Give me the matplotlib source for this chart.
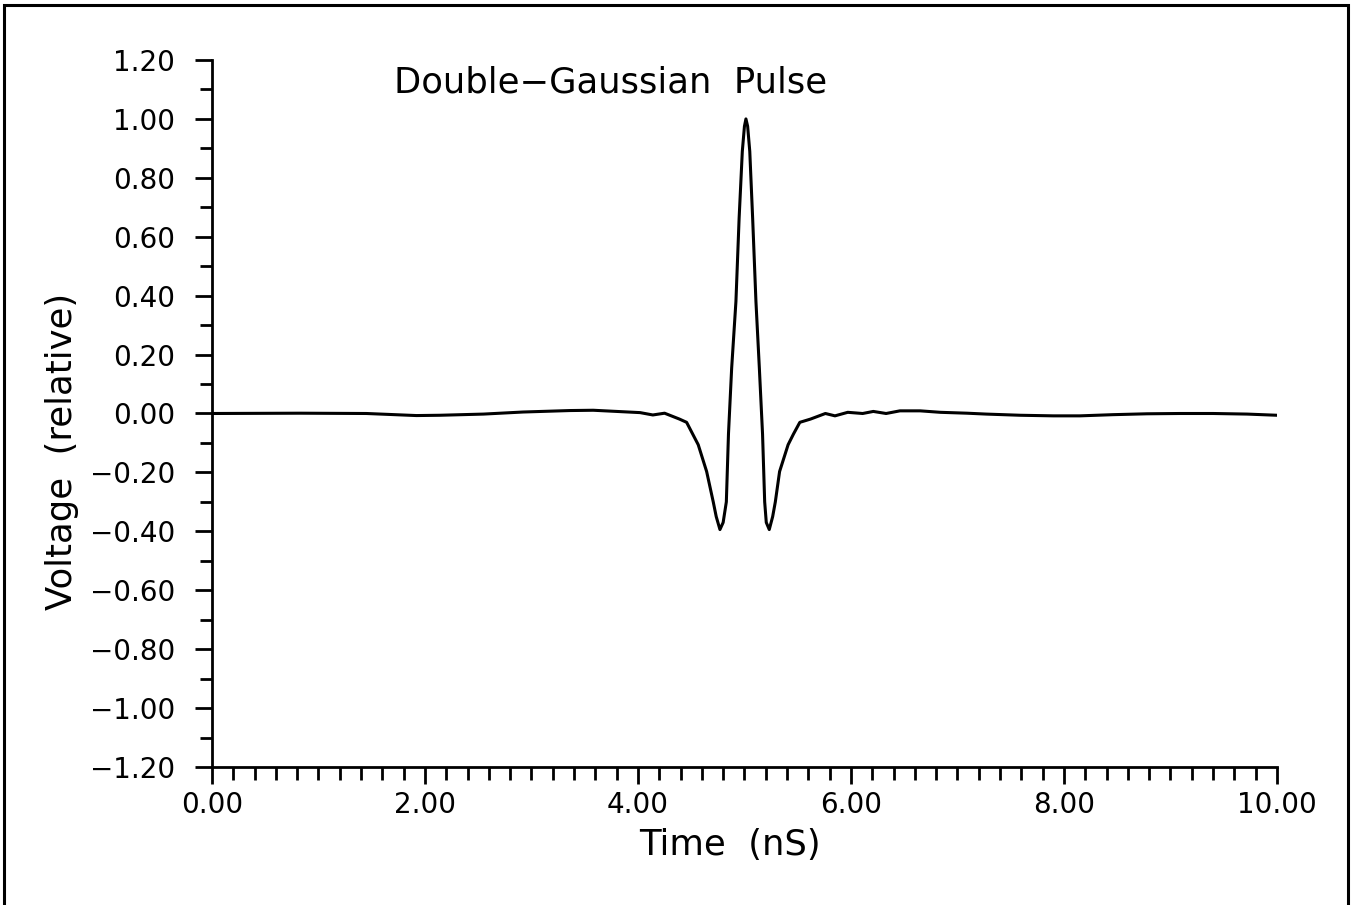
import matplotlib
matplotlib.use("Agg")
import matplotlib.pyplot as plt
from matplotlib.patches import Rectangle
from matplotlib.ticker import MultipleLocator, FuncFormatter

# values (time in nS, relative voltage)
time_ns = [0.00, 0.83, 1.45, 1.92, 2.14, 2.55, 2.92, 3.36, 3.58, 3.80,
           4.02, 4.14, 4.25, 4.39, 4.457, 4.566, 4.645, 4.707, 4.735, 4.77,
           4.80, 4.83, 4.85, 4.88, 4.92, 4.95, 4.98, 5.00, 5.014, 5.03,
           5.05, 5.077, 5.108, 5.14, 5.17, 5.19, 5.205, 5.233, 5.265, 5.29,
           5.33, 5.41, 5.46, 5.52, 5.62, 5.76, 5.85, 5.97, 6.11, 6.21,
           6.33, 6.46, 6.65, 6.84, 7.09, 7.27, 7.59, 7.90, 8.15, 8.46,
           8.78, 9.09, 9.40, 9.72, 10.00]
voltage = [0.000, 0.001, 0.000, -0.007, -0.006, -0.002, 0.005, 0.010, 0.011, 0.007,
           0.003, -0.005, 0.001, -0.019, -0.030, -0.106, -0.197, -0.300, -0.350, -0.394,
           -0.370, -0.300, -0.070, 0.154, 0.380, 0.663, 0.890, 0.975, 1.000, 0.975,
           0.890, 0.663, 0.380, 0.154, -0.070, -0.300, -0.370, -0.394, -0.350, -0.300,
           -0.197, -0.106, -0.070, -0.030, -0.019, 0.000, -0.008, 0.004, 0.000, 0.007,
           0.000, 0.009, 0.009, 0.004, 0.001, -0.002, -0.006, -0.008, -0.008, -0.004,
           -0.001, 0.000, 0.000, -0.002, -0.006]


def fmt(v, pos):
    return ("%.2f" % v).replace("-", "\u2212")


fig = plt.figure(figsize=(13.56, 9.05), dpi=100)
ax = fig.add_axes([0.1563, 0.1525, 0.7854, 0.7812])

ax.plot(time_ns, voltage, color="black", lw=2.2, solid_joinstyle="round")

ax.set_xlim(0, 10)
ax.set_ylim(-1.2, 1.2)
ax.xaxis.set_major_locator(MultipleLocator(2))
ax.xaxis.set_minor_locator(MultipleLocator(0.2))
ax.yaxis.set_major_locator(MultipleLocator(0.2))
ax.yaxis.set_minor_locator(MultipleLocator(0.1))
ax.xaxis.set_major_formatter(FuncFormatter(fmt))
ax.yaxis.set_major_formatter(FuncFormatter(fmt))

for s in ["top", "right"]:
    ax.spines[s].set_visible(False)
for s in ["left", "bottom"]:
    ax.spines[s].set_linewidth(2.0)

ax.tick_params(which="major", direction="out", length=12.5, width=2.0, labelsize=20)
ax.tick_params(axis="y", which="major", pad=14)
ax.tick_params(axis="x", which="major", pad=5)
ax.tick_params(which="minor", direction="out", length=9, width=2.0)

fig.text(0.4505, 0.909, "Double\u2212Gaussian  Pulse", fontsize=25.5, va="center", ha="center")
fig.text(0.538, 0.066, "Time  (nS)", fontsize=25.5, va="center", ha="center")
fig.text(0.046, 0.5017, "Voltage  (relative)", fontsize=25.5, va="center", ha="center",
         rotation=90)

# frame round the whole page
fig.patches.append(Rectangle((4 / 1356, -0.02), 1344 / 1356, 0.02 + 1 - 5 / 905,
                             transform=fig.transFigure, fill=False, lw=2.2,
                             edgecolor="black"))

fig.savefig("out.png", dpi=100)
